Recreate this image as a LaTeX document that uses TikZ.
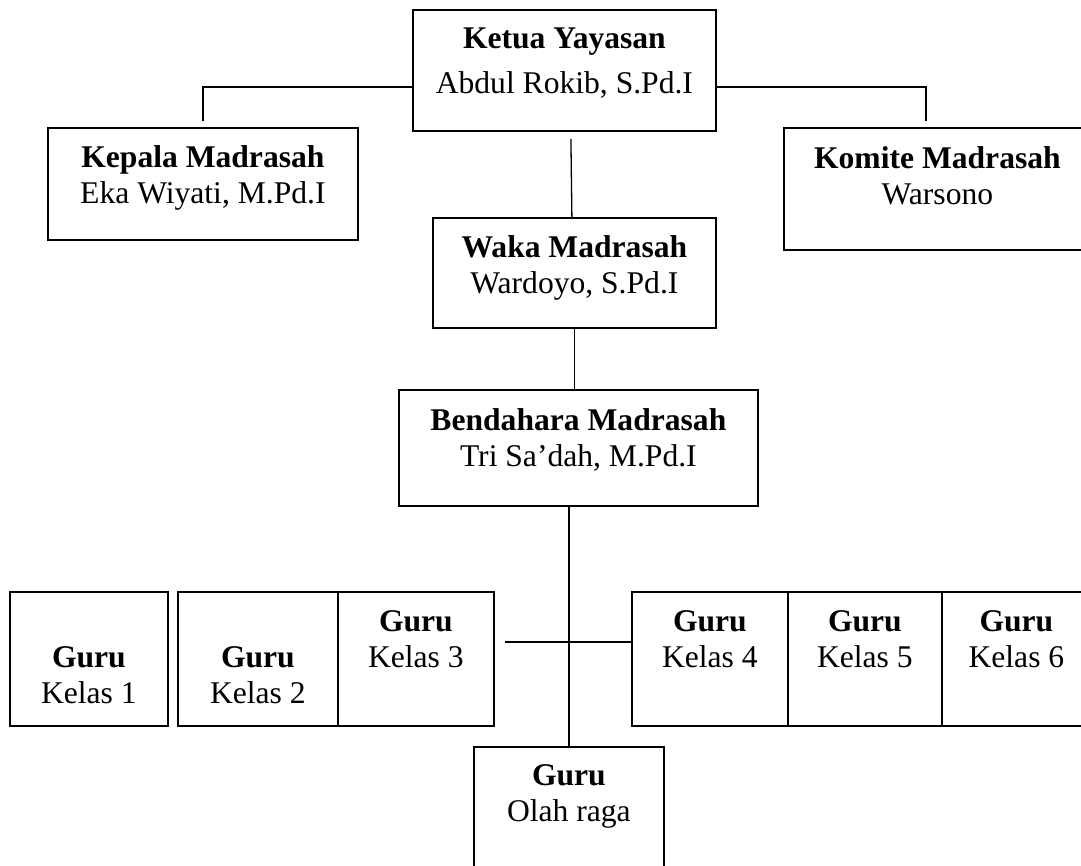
\documentclass[tikz,border=0pt]{standalone}
\usepackage{fontspec}
\setmainfont{Liberation Serif}
\usetikzlibrary{positioning}

\begin{document}
\begin{tikzpicture}[x=1pt,y=-1pt,
    unit/.style={draw,line width=1.8pt,rectangle,inner sep=0pt,anchor=north west,minimum height=134pt},
    txt/.style={align=center,inner sep=0pt,font=\fontsize{31.6}{36}\selectfont},
    link/.style={line width=1.3pt}]
    \clip (0,0) rectangle (1081,865);
    % top boxes
    \node[unit,minimum width=303pt,minimum height=121pt] (ketua) at (412,9) {};
    \node[unit,minimum width=310pt,minimum height=112pt] (kepala) at (47,127) {};
    \node[unit,minimum width=307pt,minimum height=122pt] (komite) at (783,127) {};
    \node[unit,minimum width=283pt,minimum height=110pt] (waka) at (432,217) {};
    \node[unit,minimum width=359pt,minimum height=116pt] (bendahara) at (398,389) {};
    \node[txt,below=19pt of ketua.north] (tketua) {\textbf{Ketua Yayasan}\\[9pt]Abdul Rokib, S.Pd.I};
    \node[txt,below=18pt of kepala.north] (tkepala) {\textbf{Kepala Madrasah}\\Eka Wiyati, M.Pd.I};
    \node[txt,below=19pt of komite.north] (tkomite) {\textbf{Komite Madrasah}\\Warsono};
    \node[txt,below=18pt of waka.north] (twaka) {\textbf{Waka Madrasah}\\Wardoyo, S.Pd.I};
    \node[txt,below=19pt of bendahara.north] (tbendahara) {\textbf{Bendahara Madrasah}\\Tri Sa’dah, M.Pd.I};
    % guru boxes
    \node[unit,minimum width=158pt] (kelas1) at (9,591) {};
    \node[unit,minimum width=160pt] (kelas2) at (177,591) {};
    \node[unit,minimum width=156pt] (kelas3) at (337,591) {};
    \node[unit,minimum width=156pt] (kelas4) at (631,591) {};
    \node[unit,minimum width=154pt] (kelas5) at (787,591) {};
    \node[unit,minimum width=149pt] (kelas6) at (941,591) {};
    \node[unit,minimum width=190pt,minimum height=150pt] (olah) at (473,746) {};
    \node[txt,below=55pt of kelas1.north] (tkelas1) {\textbf{Guru}\\Kelas 1};
    \node[txt,below=55pt of kelas2.north] (tkelas2) {\textbf{Guru}\\Kelas 2};
    \node[txt,below=19pt of kelas3.north] (tkelas3) {\textbf{Guru}\\Kelas 3};
    \node[txt,below=19pt of kelas4.north] (tkelas4) {\textbf{Guru}\\Kelas 4};
    \node[txt,below=19pt of kelas5.north] (tkelas5) {\textbf{Guru}\\Kelas 5};
    \node[txt,below=19pt of kelas6.north] (tkelas6) {\textbf{Guru}\\Kelas 6};
    \node[txt,below=18pt of olah.north] (tolah) {\textbf{Guru}\\Olah raga};
    % lines
    \draw[link] ([yshift=-16.5pt]ketua.west) -| ([yshift=6pt]kepala.north);
    \draw[link] ([yshift=-16.5pt]ketua.east) -| ([xshift=-11.5pt,yshift=6pt]komite.north);
    \draw[link] ([xshift=6.5pt,yshift=-7pt]ketua.south) -- ([xshift=-2.5pt]waka.north);
    \draw[link] (waka.south) -- (waka.south |- bendahara.north);
    \draw[link] (olah.north) -- (olah.north |- bendahara.south);
    \draw[link] ([xshift=10pt,yshift=17pt]kelas3.east) -- ([yshift=17pt]kelas4.west);
\end{tikzpicture}
\end{document}
